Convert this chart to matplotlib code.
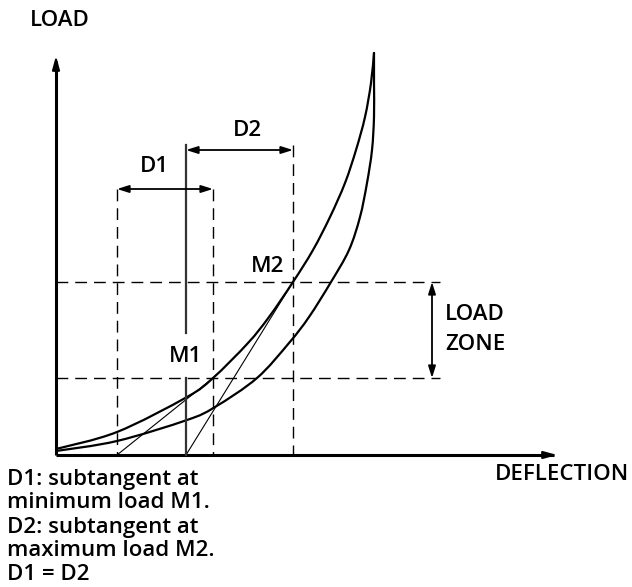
import matplotlib
matplotlib.use("Agg")
import matplotlib.pyplot as plt
from matplotlib.path import Path
from matplotlib.patches import PathPatch
import numpy as np

plt.rcParams['font.family'] = ['Open Sans', 'DejaVu Sans']
plt.rcParams['lines.scale_dashes'] = False

# Loading (upper) curve: deflection, load
upper_defl = [0, 61, 131, 157, 192, 213, 237, 257, 274, 289, 300, 309, 315, 318]
upper_load = [6, 23, 58, 77, 112, 138, 173, 205, 238, 272, 305, 338, 372, 402]
# Unloading (lower) curve
lower_defl = [0, 61, 131, 159, 201, 233, 253, 275, 293, 304, 311, 316, 318, 318, 318]
lower_load = [4, 14, 35, 48, 77, 112, 138, 173, 205, 238, 272, 305, 338, 372, 402]

# Key points
m1 = (157, 77)      # minimum load point M1
m2 = (237, 173)     # maximum load point M2
t1_foot = 61        # tangent at M1 meets deflection axis
t2_foot = 130       # tangent at M2 meets deflection axis


def smooth_path(xs, ys):
    """Smooth Bezier path passing through the given points."""
    p = np.column_stack([xs, ys]).astype(float)
    n = len(p)
    verts = [p[0]]
    codes = [Path.MOVETO]
    for i in range(n - 1):
        p0 = p[i - 1] if i > 0 else p[i]
        p1 = p[i]
        p2 = p[i + 1]
        p3 = p[i + 2] if i + 2 < n else p[i + 1]
        c1 = p1 + (p2 - p0) / 6.0
        c2 = p2 - (p3 - p1) / 6.0
        verts += [c1, c2, p2]
        codes += [Path.CURVE4] * 3
    return Path(verts, codes)


fig = plt.figure(figsize=(6.32, 5.87), dpi=100)
ax = fig.add_axes([0, 0, 1, 1])
ax.set_xlim(-56, 576)
ax.set_ylim(-132, 455)
ax.axis('off')

# axes
ax.plot([0, 0], [0, 394], color='black', lw=2.2, solid_capstyle='butt')
ax.plot([0, 498], [0, 0], color='black', lw=2.2, solid_capstyle='butt')
ax.annotate('', xy=(0, 402), xytext=(0, 387),
            arrowprops=dict(arrowstyle='-|>,head_length=0.8,head_width=0.22', color='black', lw=1.5))
ax.annotate('', xy=(504, 0), xytext=(489, 0),
            arrowprops=dict(arrowstyle='-|>,head_length=0.8,head_width=0.22', color='black', lw=1.5))

# curves
for xs, ys in [(upper_defl, upper_load), (lower_defl, lower_load)]:
    ax.add_patch(PathPatch(smooth_path(xs, ys), facecolor='none', edgecolor='black',
                           lw=1.6, capstyle='round', joinstyle='round'))

# tangent lines
ax.plot([t1_foot, m1[0]], [0, m1[1]], color='black', lw=0.8)
ax.plot([t2_foot, m2[0]], [0, m2[1]], color='black', lw=0.8)

dash = dict(color='black', lw=1.0, linestyle=(0, (8.5, 5)))
# horizontal dashed
ax.plot([0, 384], [m1[1], m1[1]], **dash)
ax.plot([0, 384], [m2[1], m2[1]], **dash)
# vertical dashed
ax.plot([t1_foot, t1_foot], [266, 0], **dash)
ax.plot([m1[0], m1[0]], [266, 0], **dash)
ax.plot([m2[0], m2[0]], [310, 0], **dash)

# solid vertical at tangent foot of M2
ax.plot([t2_foot, t2_foot], [310, 122], color='#333333', lw=1.6)
ax.plot([t2_foot, t2_foot], [77, 0], color='#333333', lw=1.6)

arr = dict(arrowstyle='<|-|>,head_length=0.7,head_width=0.22', color='black', lw=1.3,
           shrinkA=0, shrinkB=0)
ax.annotate('', xy=(t1_foot, 266), xytext=(m1[0], 266), arrowprops=arr)
ax.annotate('', xy=(t2_foot, 305), xytext=(m2[0], 305), arrowprops=arr)
ax.annotate('', xy=(376, m2[1]), xytext=(376, m1[1]), arrowprops=arr)

fs = 16
fw = 'semibold'
tk = dict(fontsize=fs, fontweight=fw, va='center')
ax.text(4, 434, 'LOAD', ha='center', **tk)
ax.text(506, -20, 'DEFLECTION', ha='center', **tk)
ax.text(98, 288, 'D1', ha='center', **tk)
ax.text(191, 325, 'D2', ha='center', **tk)
ax.text(130, 98, 'M1', ha='center', **tk)
ax.text(212, 189, 'M2', ha='center', **tk)
ax.text(389, 140, 'LOAD', ha='left', **tk)
ax.text(389, 110, 'ZONE', ha='left', **tk)

notes = ['D1: subtangent at', 'minimum load M1.', 'D2: subtangent at',
         'maximum load M2.', 'D1 = D2']
for i, line in enumerate(notes):
    ax.text(-49, -24 - 24 * i, line, ha='left', linespacing=1.0, **tk)

fig.savefig('out.png', dpi=100)
